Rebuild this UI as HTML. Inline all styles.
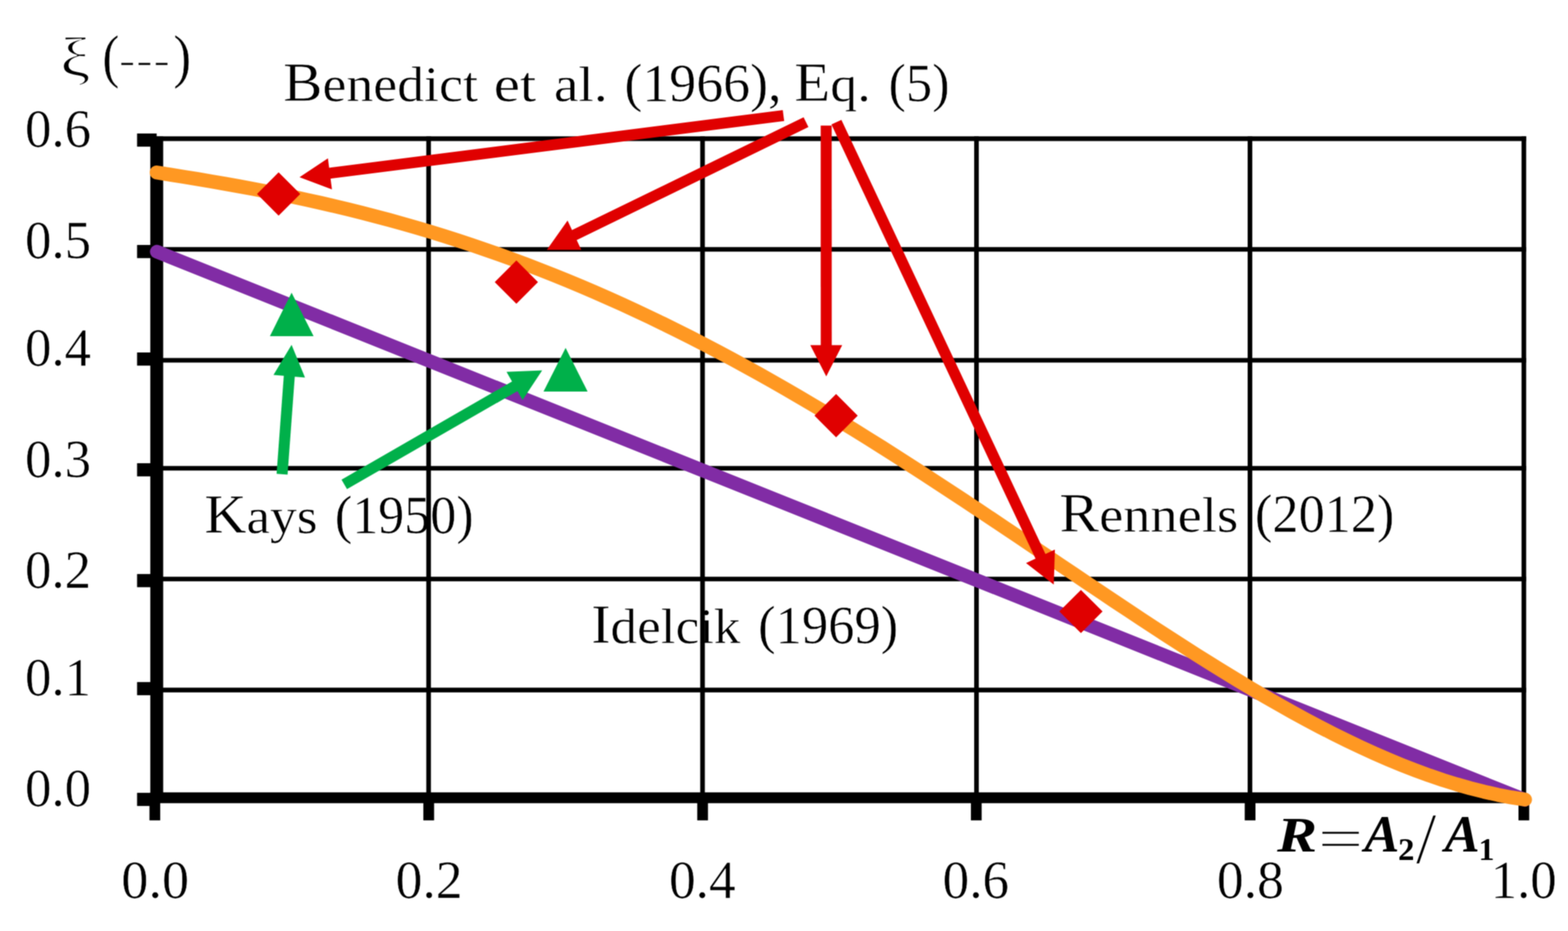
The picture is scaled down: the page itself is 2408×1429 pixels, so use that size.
<!DOCTYPE html>
<html lang="en">
<head>
<meta charset="utf-8">
<title>Contraction loss coefficient versus area ratio</title>
<style>
html,body{margin:0;padding:0;background:#fff;}
body{width:2408px;height:1429px;overflow:hidden;font-family:"Liberation Serif","DejaVu Serif",serif;}
svg{display:block;}
</style>
</head>
<body>
<svg width="2408" height="1429" viewBox="0 0 2408 1429">
<defs>
<filter id="soft" filterUnits="userSpaceOnUse" x="0" y="0" width="2408" height="1429" color-interpolation-filters="sRGB">
<feConvolveMatrix order="3" kernelMatrix="1 2 1 2 4 2 1 2 1" divisor="16" edgeMode="duplicate" preserveAlpha="true"/>
</filter>
</defs>
<rect width="2408" height="1429" fill="#fff"/>
<g id="chart" filter="url(#soft)">
<rect width="2408" height="1429" fill="#fff"/>
<g id="labels" font-family="'Liberation Serif','DejaVu Serif',serif" fill="#000" paint-order="fill stroke">
<text id="lbl-benedict"><tspan x="435.05" y="155.2" textLength="298.88" lengthAdjust="spacingAndGlyphs" font-size="77" stroke="#fff" stroke-width="0.6"><tspan font-size="84">B</tspan>enedict</tspan> <tspan x="758.18" y="155.2" textLength="65.29" lengthAdjust="spacingAndGlyphs" font-size="77" stroke="#fff" stroke-width="0.6">et</tspan> <tspan x="850.69" y="155.2" textLength="82.48" lengthAdjust="spacingAndGlyphs" font-size="77" stroke="#fff" stroke-width="0.6">al.</tspan> <tspan x="958.97" y="155.2" textLength="241.15" lengthAdjust="spacingAndGlyphs" font-size="82" stroke="#fff" stroke-width="0.6">(1966),</tspan> <tspan x="1219.84" y="155.2" textLength="117.38" lengthAdjust="spacingAndGlyphs" font-size="77" stroke="#fff" stroke-width="0.6"><tspan font-size="84">E</tspan>q.</tspan> <tspan x="1364.58" y="155.2" textLength="93.83" lengthAdjust="spacingAndGlyphs" font-size="82" stroke="#fff" stroke-width="0.6">(5)</tspan></text>
<text id="lbl-xi"><tspan x="92.44" y="116.5" textLength="46.31" lengthAdjust="spacingAndGlyphs" font-size="84" stroke="#fff" stroke-width="1.6">ξ</tspan> <tspan x="157.34" y="116.6" textLength="26.12" lengthAdjust="spacingAndGlyphs" font-size="91" stroke="#fff" stroke-width="0.6">(</tspan><tspan x="182.11" y="116.3" textLength="79.41" lengthAdjust="spacingAndGlyphs" font-size="77" stroke="#fff" stroke-width="2.6">---</tspan><tspan x="266.37" y="116.6" textLength="27.31" lengthAdjust="spacingAndGlyphs" font-size="91" stroke="#fff" stroke-width="0.6">)</tspan></text>
<text id="ytick-0"><tspan x="38.54" y="225.4" textLength="101.38" lengthAdjust="spacingAndGlyphs" font-size="82" stroke="#fff" stroke-width="0.6">0.6</tspan></text>
<text id="ytick-1"><tspan x="38.54" y="396" textLength="101.38" lengthAdjust="spacingAndGlyphs" font-size="82" stroke="#fff" stroke-width="0.6">0.5</tspan></text>
<text id="ytick-2"><tspan x="38.54" y="561.4" textLength="101.38" lengthAdjust="spacingAndGlyphs" font-size="82" stroke="#fff" stroke-width="0.6">0.4</tspan></text>
<text id="ytick-3"><tspan x="38.54" y="731.6" textLength="101.38" lengthAdjust="spacingAndGlyphs" font-size="82" stroke="#fff" stroke-width="0.6">0.3</tspan></text>
<text id="ytick-4"><tspan x="38.54" y="901.5" textLength="101.38" lengthAdjust="spacingAndGlyphs" font-size="82" stroke="#fff" stroke-width="0.6">0.2</tspan></text>
<text id="ytick-5"><tspan x="38.54" y="1067.4" textLength="101.38" lengthAdjust="spacingAndGlyphs" font-size="82" stroke="#fff" stroke-width="0.6">0.1</tspan></text>
<text id="ytick-6"><tspan x="38.54" y="1237.4" textLength="101.38" lengthAdjust="spacingAndGlyphs" font-size="82" stroke="#fff" stroke-width="0.6">0.0</tspan></text>
<text id="xtick-0"><tspan x="186.25" y="1377.8" textLength="104.11" lengthAdjust="spacingAndGlyphs" font-size="82" stroke="#fff" stroke-width="0.6">0.0</tspan></text>
<text id="xtick-1"><tspan x="607.48" y="1377.8" textLength="103.1" lengthAdjust="spacingAndGlyphs" font-size="82" stroke="#fff" stroke-width="0.6">0.2</tspan></text>
<text id="xtick-2"><tspan x="1027.51" y="1377.8" textLength="102.18" lengthAdjust="spacingAndGlyphs" font-size="82" stroke="#fff" stroke-width="0.6">0.4</tspan></text>
<text id="xtick-3"><tspan x="1447.51" y="1377.8" textLength="102.23" lengthAdjust="spacingAndGlyphs" font-size="82" stroke="#fff" stroke-width="0.6">0.6</tspan></text>
<text id="xtick-4"><tspan x="1868.68" y="1377.8" textLength="103.04" lengthAdjust="spacingAndGlyphs" font-size="82" stroke="#fff" stroke-width="0.6">0.8</tspan></text>
<text id="xtick-5"><tspan x="2289.17" y="1377.8" textLength="101.6" lengthAdjust="spacingAndGlyphs" font-size="82" stroke="#fff" stroke-width="0.6">1.0</tspan></text>
<text id="lbl-kays"><tspan x="313.98" y="817.7" textLength="173.59" lengthAdjust="spacingAndGlyphs" font-size="77" stroke="#fff" stroke-width="0.6"><tspan font-size="84">K</tspan>ays</tspan> <tspan x="514.3" y="817.7" textLength="212.97" lengthAdjust="spacingAndGlyphs" font-size="82" stroke="#fff" stroke-width="0.6">(1950)</tspan></text>
<text id="lbl-idelcik"><tspan x="907.95" y="987" textLength="229.25" lengthAdjust="spacingAndGlyphs" font-size="77" stroke="#fff" stroke-width="0.6"><tspan font-size="84">I</tspan>delcik</tspan> <tspan x="1164.26" y="987" textLength="215.15" lengthAdjust="spacingAndGlyphs" font-size="82" stroke="#fff" stroke-width="0.6">(1969)</tspan></text>
<text id="lbl-rennels"><tspan x="1627.12" y="816" textLength="274.34" lengthAdjust="spacingAndGlyphs" font-size="77" stroke="#fff" stroke-width="0.6"><tspan font-size="84">R</tspan>ennels</tspan> <tspan x="1927.28" y="816" textLength="214.11" lengthAdjust="spacingAndGlyphs" font-size="82" stroke="#fff" stroke-width="0.6">(2012)</tspan></text>
<text id="lbl-ratio"><tspan x="1961.2" y="1306.6" textLength="61.42" lengthAdjust="spacingAndGlyphs" font-size="77" style="font-style:italic;font-weight:bold">R</tspan><tspan x="2023.51" y="1317.8" textLength="70.5" lengthAdjust="spacingAndGlyphs" font-size="90" stroke="#fff" stroke-width="1.6">=</tspan><tspan x="2095.23" y="1306.6" textLength="53.83" lengthAdjust="spacingAndGlyphs" font-size="81" style="font-style:italic;font-weight:bold">A</tspan><tspan x="2146.9" y="1320.3" textLength="25.2" lengthAdjust="spacingAndGlyphs" font-size="48" style="font-weight:bold">2</tspan><tspan x="2174.28" y="1324.6" textLength="31.77" lengthAdjust="spacingAndGlyphs" font-size="112" stroke="#fff" stroke-width="1.4">/</tspan><tspan x="2218.54" y="1306.6" textLength="53.93" lengthAdjust="spacingAndGlyphs" font-size="81" style="font-style:italic;font-weight:bold">A</tspan><tspan x="2270.72" y="1320.3" textLength="24.2" lengthAdjust="spacingAndGlyphs" font-size="48" style="font-weight:bold">1</tspan></text>
</g>
<g id="grid" stroke="#000" stroke-width="7.1" fill="none">
<line x1="240" y1="212.9" x2="2343.75" y2="212.9"/>
<line x1="240" y1="382.8" x2="2343.75" y2="382.8"/>
<line x1="240" y1="553" x2="2343.75" y2="553"/>
<line x1="240" y1="718.7" x2="2343.75" y2="718.7"/>
<line x1="240" y1="888.8" x2="2343.75" y2="888.8"/>
<line x1="240" y1="1059.1" x2="2343.75" y2="1059.1"/>
<line x1="658.2" y1="209.35" x2="658.2" y2="1225"/>
<line x1="1078.9" y1="209.35" x2="1078.9" y2="1225"/>
<line x1="1499.6" y1="209.35" x2="1499.6" y2="1225"/>
<line x1="1919.6" y1="209.35" x2="1919.6" y2="1225"/>
<line x1="2340.2" y1="209.35" x2="2340.2" y2="1225"/>
</g>
<g id="axes" fill="#000">
<rect x="230.8" y="209.3" width="19.8" height="1020"/>
<rect x="230.8" y="1216.2" width="2113" height="16.6"/>
<rect x="210.5" y="204.9" width="30.1" height="20.2"/>
<rect x="210.5" y="376" width="30.1" height="20.2"/>
<rect x="210.5" y="541" width="30.1" height="20.2"/>
<rect x="210.5" y="711" width="30.1" height="20.2"/>
<rect x="210.5" y="881.1" width="30.1" height="20.2"/>
<rect x="210.5" y="1046.9" width="30.1" height="20.2"/>
<rect x="210.5" y="1216.9" width="30.1" height="20.2"/>
<rect x="229.55" y="1220" width="16.5" height="39.2"/>
<rect x="650.15" y="1220" width="16.5" height="39.2"/>
<rect x="1070.75" y="1220" width="16.5" height="39.2"/>
<rect x="1491.05" y="1220" width="16.5" height="39.2"/>
<rect x="1911.55" y="1220" width="16.5" height="39.2"/>
<rect x="2331.95" y="1220" width="16.5" height="39.2"/>
</g>
<line id="idelcik" x1="240.8" y1="386.3" x2="2341.5" y2="1227.6" stroke="#812ca5" stroke-width="21" stroke-linecap="round"/>
<polyline id="rennels" points="240.6,264.77 261.61,268.1 282.63,271.48 303.64,274.93 324.66,278.47 345.67,282.12 366.68,285.89 387.7,289.78 408.71,293.82 429.73,298 450.74,302.34 471.75,306.85 492.77,311.53 513.78,316.38 534.8,321.42 555.81,326.65 576.82,332.08 597.84,337.71 618.85,343.54 639.87,349.58 660.88,355.84 681.89,362.31 702.91,369 723.92,375.91 744.94,383.05 765.95,390.41 786.96,398 807.98,405.83 828.99,413.88 850.01,422.16 871.02,430.68 892.03,439.43 913.05,448.41 934.06,457.62 955.08,467.06 976.09,476.74 997.1,486.63 1018.12,496.76 1039.13,507.11 1060.15,517.67 1081.16,528.46 1102.17,539.46 1123.19,550.67 1144.2,562.09 1165.22,573.7 1186.23,585.52 1207.24,597.53 1228.26,609.72 1249.27,622.1 1270.29,634.64 1291.3,647.36 1312.31,660.24 1333.33,673.27 1354.34,686.44 1375.36,699.75 1396.37,713.19 1417.38,726.75 1438.4,740.42 1459.41,754.18 1480.43,768.04 1501.44,781.97 1522.45,795.98 1543.47,810.03 1564.48,824.14 1585.5,838.27 1606.51,852.42 1627.52,866.58 1648.54,880.73 1669.55,894.85 1690.57,908.94 1711.58,922.98 1732.59,936.95 1753.61,950.83 1774.62,964.61 1795.64,978.28 1816.65,991.82 1837.66,1005.2 1858.68,1018.41 1879.69,1031.44 1900.71,1044.25 1921.72,1056.84 1942.73,1069.19 1963.75,1081.26 1984.76,1093.05 2005.78,1104.53 2026.79,1115.68 2047.8,1126.47 2068.82,1136.9 2089.83,1146.92 2110.85,1156.52 2131.86,1165.68 2152.87,1174.36 2173.89,1182.55 2194.9,1190.23 2215.92,1197.35 2236.93,1203.91 2257.94,1209.87 2278.96,1215.21 2299.97,1219.89 2320.99,1223.9 2342,1227.2" fill="none" stroke="#ff9822" stroke-width="21.4" stroke-linecap="round" stroke-linejoin="round"/>
<g id="markers">
<polygon points="427.9,264.5 461.1,297.7 427.9,330.9 394.7,297.7" fill="#e00000"/>
<polygon points="793,399.8 826.2,433 793,466.2 759.8,433" fill="#e00000"/>
<polygon points="1284,604.8 1317.2,638 1284,671.2 1250.8,638" fill="#e00000"/>
<polygon points="1660,905.4 1693.2,938.6 1660,971.8 1626.8,938.6" fill="#e00000"/>
<polygon points="447.8,449.2 414.5,516 481.6,516" fill="#00b04a"/>
<polygon points="868.6,533.9 834.7,601 902.4,601" fill="#00b04a"/>
</g>
<g id="green-arrows">
<line x1="433.2" y1="727.8" x2="444.57" y2="573.18" stroke="#00b04a" stroke-width="16.9"/>
<polygon points="447.8,529.3 420,575.5 468.4,579.5" fill="#00b04a"/>
<line x1="528.7" y1="743.5" x2="794.46" y2="590.64" stroke="#00b04a" stroke-width="16.9"/>
<polygon points="832.6,568.6 777.9,570.7 802.5,614" fill="#00b04a"/>
</g>
<g id="red-arrows">
<line x1="1203.2" y1="177.4" x2="503.45" y2="266.26" stroke="#e00000" stroke-width="16.9"/>
<polygon points="460,272 503.6,243 509.8,290.8" fill="#e00000"/>
<line x1="1237.8" y1="187.5" x2="879.35" y2="362.22" stroke="#e00000" stroke-width="16.9"/>
<polygon points="871.6,338.6 892.7,383.5 839.8,383.5" fill="#e00000"/>
<line x1="1268.8" y1="192.7" x2="1268.89" y2="533.7" stroke="#e00000" stroke-width="16.9"/>
<polygon points="1268.9,577.7 1244.39,529.71 1293.39,529.69" fill="#e00000"/>
<line x1="1284.5" y1="187.5" x2="1599.58" y2="857.48" stroke="#e00000" stroke-width="16.9"/>
<polygon points="1618.3,897.3 1575.7,864.29 1620.04,843.44" fill="#e00000"/>
</g>
</g>
</svg>
</body>
</html>
